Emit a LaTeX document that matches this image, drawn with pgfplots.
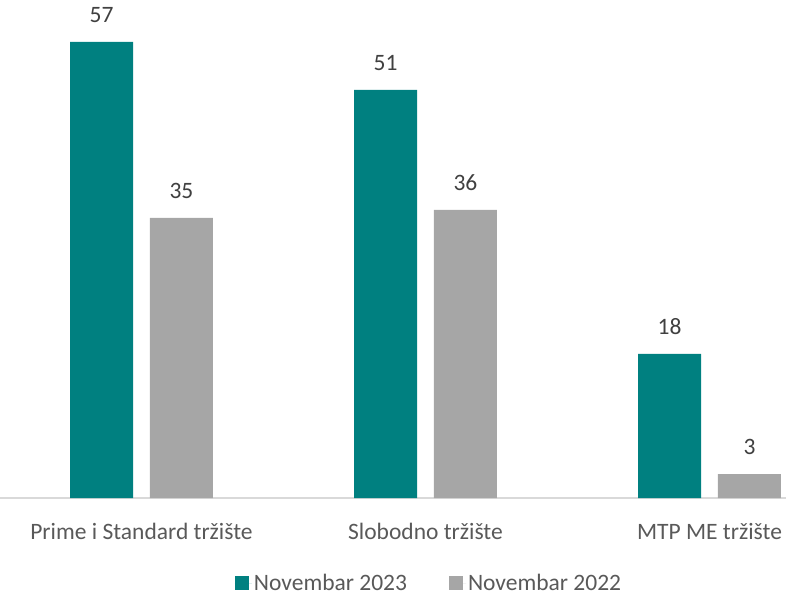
\documentclass[border=0pt]{standalone}
\usepackage{pgfplots}
\pgfplotsset{compat=1.18}
\usepackage{fontspec}
\setmainfont{Carlito}
\definecolor{teal23}{HTML}{008080}
\definecolor{grey22}{HTML}{A6A6A6}
\definecolor{txt}{HTML}{595959}
\definecolor{txtd}{HTML}{404040}
\definecolor{axl}{HTML}{D9D9D9}
\begin{document}
\begin{tikzpicture}
\begin{axis}[
  at={(0,0)}, anchor=south west,
  scale only axis,
  width=786pt, height=498pt,
  xmin=-0.4982, xmax=2.2694,
  ymin=0, ymax=62.25,
  ybar, bar width=0.2218, 
  axis x line*=bottom, axis y line=none,
  x axis line style={axl, line width=1.2pt, -},
  xtick={0,1,2},
  xticklabels={Prime i Standard tržište, Slobodno tržište, MTP ME tržište},
  major tick length=0,
  xticklabel style={anchor=base, yshift=-41.5pt, font=\fontsize{23.5}{28}\selectfont, text=txt},
  nodes near coords,
  every node near coord/.append style={anchor=base, yshift=19pt, font=\fontsize{23.5}{28}\selectfont, text=txtd},
  legend columns=2,
  legend style={draw=none, at={(0.5458,-0.1707)}, anchor=center, font=\fontsize{23.5}{28}\selectfont, text=txt,
    /tikz/every even column/.append style={column sep=40pt}},
  legend image code/.code={\fill[#1] (0pt,-7pt) rectangle (14pt,7pt); \path (0pt,0pt) -- (17pt,0pt);},
  /pgf/number format/assume math mode=true,
  clip=false,
]
\addplot[fill=teal23, draw=none, bar shift=-0.1408] coordinates {(0,57) (1,51) (2,18)};
\addplot[fill=grey22, draw=none, bar shift=0.1408] coordinates {(0,35) (1,36) (2,3)};
\legend{Novembar 2023, Novembar 2022}
\end{axis}
\pgfresetboundingbox
\path (0,-98pt) rectangle (786pt,498pt);
\end{tikzpicture}
\end{document}
